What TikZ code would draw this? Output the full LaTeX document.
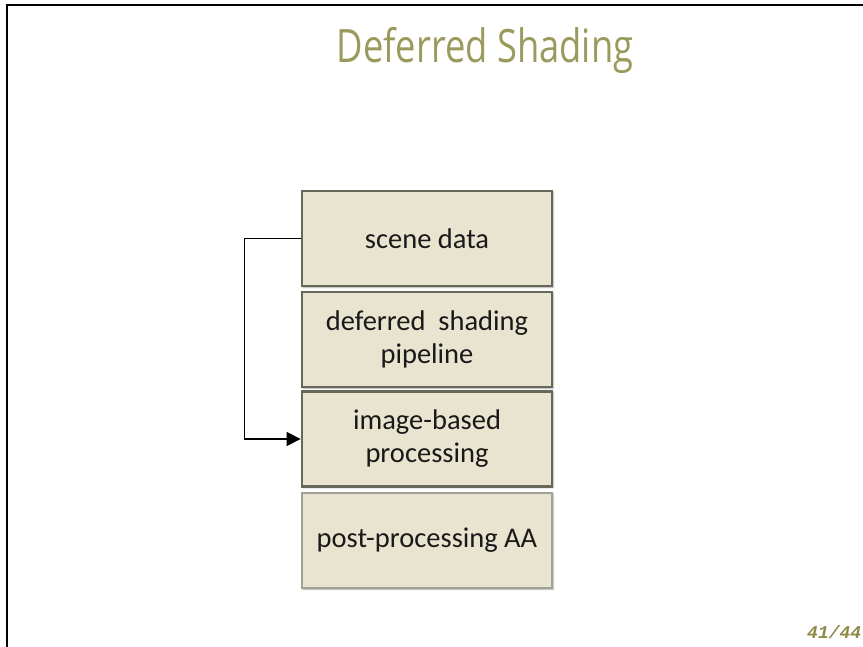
\documentclass[tikz,border=0pt]{standalone}
\usepackage{fontspec}
\setmainfont{Carlito}
\newfontfamily\titlefont{Open Sans}
\newfontfamily\numfont{Liberation Mono}
\usetikzlibrary{arrows.meta,shadows.blur}
\definecolor{titleolive}{HTML}{9A9A5C}
\definecolor{numolive}{HTML}{8E8A48}
\definecolor{boxfill}{HTML}{E8E4CF}
\definecolor{boxedge}{HTML}{67675A}
\definecolor{boxedgelight}{HTML}{A2A294}
\tikzset{
  stage/.style={draw=boxedge, line width=2.8pt, fill=boxfill,
    minimum width=250pt, minimum height=95pt, inner sep=0pt,
    align=center, text=black!90, font=\fontsize{28.5}{33}\selectfont,
    blur shadow={shadow xshift=1pt, shadow yshift=-1pt,
      shadow blur steps=6, shadow opacity=35}},
  laststage/.style={stage, draw=boxedgelight, line width=2pt},
  feedback/.style={line width=1.3pt, -{Triangle[length=14pt,width=14pt]}},
}
\begin{document}
\begin{tikzpicture}[x=1pt,y=-1pt]
\useasboundingbox (0,0) rectangle (863,647);
% slide frame
\draw[line width=2.6pt] (7,647) -- (7,5) -- (863,5);
% title, set narrow
\node[font=\titlefont\fontsize{46}{54}\selectfont, text=titleolive, anchor=base]
  (title) at (485,63) {\scalebox{0.79}[1]{Deferred Shading}};
% pipeline stages
\node[stage] (scene) at (427,238.5) {scene data};
\node[stage] (deferred) at (427,339.5) {deferred\ \ shading\\pipeline};
\node[stage] (image) at (427,439) {image-based\\processing};
\node[laststage] (post) at (427,540.5) {post-processing AA};
% feedback connector
\draw[feedback] (scene.west) -- ++(-56,0) |- (image.west);
% page number
\node[font=\numfont\bfseries\itshape\fontsize{18}{20}\selectfont, text=numolive,
  anchor=base west, inner sep=0pt] (pagenum) at (807,638) {41/44};
\end{tikzpicture}
\end{document}
